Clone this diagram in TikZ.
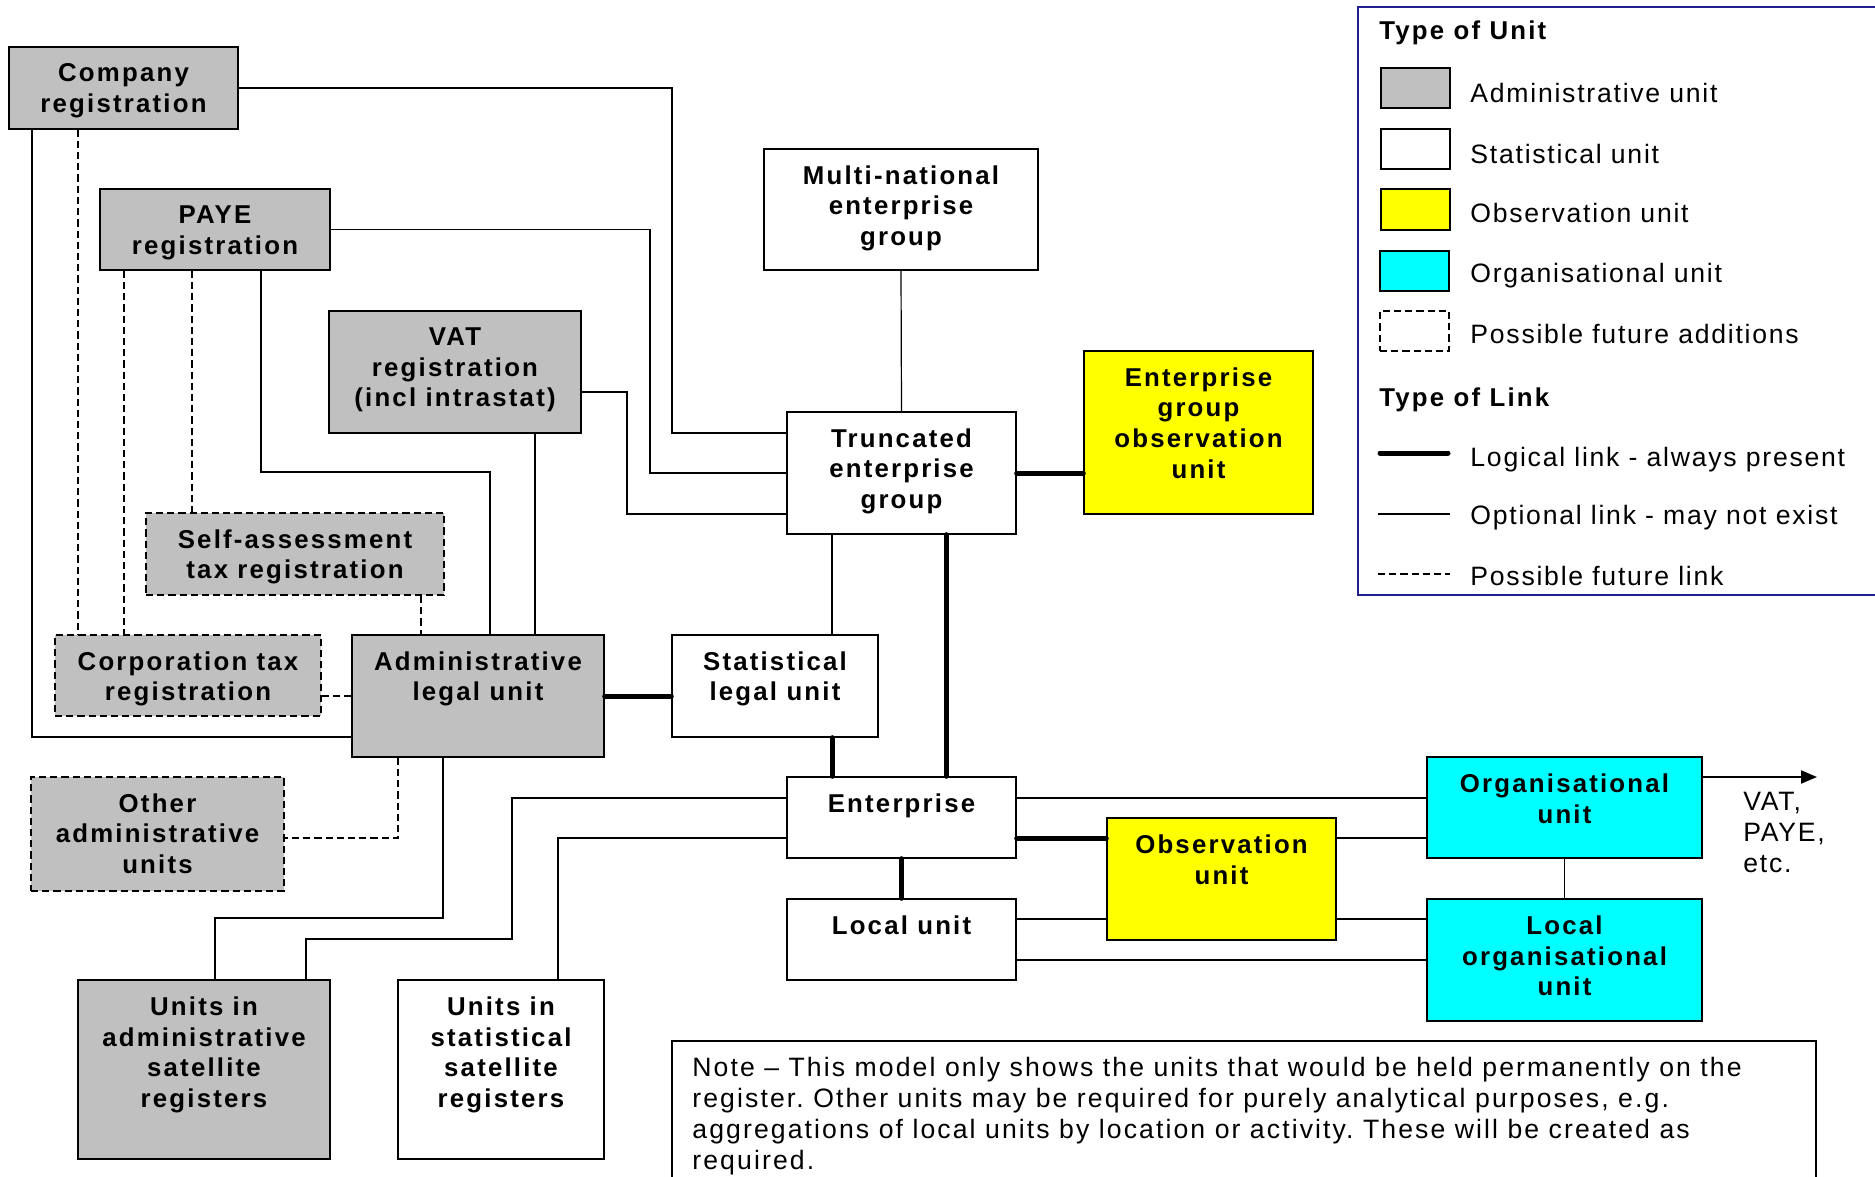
\documentclass[tikz,border=0pt]{standalone}
\usepackage{fontspec}
\setmainfont{Liberation Sans}
\newfontfamily\unitfamily[LetterSpace=8.5]{Liberation Sans}
\newfontfamily\plainfamily[LetterSpace=6.6]{Liberation Sans}
\newfontfamily\notefamily[LetterSpace=7.9]{Liberation Sans}
\usetikzlibrary{positioning,calc,fit}
\usetikzlibrary{arrows.meta}
\frenchspacing

\definecolor{admgray}{HTML}{C0C0C0}
\definecolor{obsyellow}{HTML}{FFFF00}
\definecolor{orgcyan}{HTML}{00FFFF}
\definecolor{legendblue}{HTML}{202090}

\tikzset{
	unitbox/.style={rectangle, draw, line width=0.7pt, inner sep=0pt},
	adminbox/.style={unitbox, fill=admgray},
	statbox/.style={unitbox, fill=white},
	obsbox/.style={unitbox, fill=obsyellow},
	orgbox/.style={unitbox, fill=orgcyan},
	futurebox/.style={adminbox, line width=0.95pt, dash pattern=on 3.6pt off 2pt},
	unittext/.style={anchor=north, yshift=-8.5pt, inner sep=0pt, align=center, font=\unitfamily\bfseries\fontsize{12.9}{15.3}\selectfont},
	optlink/.style={line width=0.6pt},
	logiclink/.style={line width=2.5pt, line cap=round},
	futurelink/.style={line width=0.95pt, dash pattern=on 3.6pt off 2pt},
	keytext/.style={anchor=base west, inner sep=0pt, font=\plainfamily\fontsize{13.3}{15.5}\selectfont},
	keyhead/.style={anchor=base west, inner sep=0pt, font=\unitfamily\bfseries\fontsize{12.9}{15.3}\selectfont},
}

\begin{document}
\begin{tikzpicture}[x=0.5pt, y=-0.5pt]
	\useasboundingbox (0,0) rectangle (1875,1177);

	\node[adminbox, fit={(9,47) (238,129)}, label={[unittext]north:Company\\registration}] (company) {};
	\node[adminbox, fit={(100,189) (330,270)}, label={[unittext]north:PAYE\\registration}] (paye) {};
	\node[adminbox, fit={(329,311) (581,433)}, label={[unittext]north:VAT\\registration\\(incl intrastat)}] (vat) {};
	\node[futurebox, fit={(146,513) (444,595)}, label={[unittext]north:Self-assessment\\tax registration}] (selfassess) {};
	\node[futurebox, fit={(55,635) (321,716)}, label={[unittext]north:Corporation tax\\registration}] (corptax) {};
	\node[adminbox, fit={(352,635) (604,757)}, label={[unittext]north:Administrative\\legal unit}] (adminlu) {};
	\node[futurebox, fit={(31,777) (284,891)}, label={[unittext]north:Other\\administrative\\units}] (otheradmin) {};
	\node[adminbox, fit={(78,980) (330,1159)}, label={[unittext]north:Units in\\administrative\\satellite\\registers}] (admsat) {};
	\node[statbox, fit={(398,980) (604,1159)}, label={[unittext]north:Units in\\statistical\\satellite\\registers}] (statsat) {};

	\node[statbox, fit={(764,149) (1038,270)}, label={[unittext]north:Multi-national\\enterprise\\group}] (mneg) {};
	\node[statbox, fit={(787,412) (1016,534)}, label={[unittext]north:Truncated\\enterprise\\group}] (teg) {};
	\node[obsbox, fit={(1084,351) (1313,514)}, label={[unittext]north:Enterprise\\group\\observation\\unit}] (egobs) {};
	\node[statbox, fit={(672,635) (878,737)}, label={[unittext]north:Statistical\\legal unit}] (statlu) {};
	\node[statbox, fit={(787,777) (1016,858)}, label={[unittext]north:Enterprise}] (enterprise) {};
	\node[statbox, fit={(787,899) (1016,980)}, label={[unittext]north:Local unit}] (localunit) {};
	\node[obsbox, fit={(1107,818) (1336,940)}, label={[unittext]north:Observation\\unit}] (obsunit) {};
	\node[orgbox, fit={(1427,757) (1702,858)}, label={[unittext]north:Organisational\\unit}] (orgunit) {};
	\node[orgbox, fit={(1427,899) (1702,1021)}, label={[unittext]north:Local\\organisational\\unit}] (localorg) {};

	\draw[optlink] (company.east) -| (672,433) -- (teg.west |- 0,433);
	\draw[optlink] (paye.east) -| (650,473) -- (teg.west);
	\draw[optlink] (vat.east |- 0,392) -| (627,514) -- (teg.west |- 0,514);
	\draw[optlink] (company.south -| 32,0) |- (adminlu.west |- 0,737);
	\draw[optlink] (paye.south -| 261,0) |- (490,472) -- (adminlu.north -| 490,0);
	\draw[optlink] (vat.south -| 535,0) -- (adminlu.north -| 535,0);
	\draw[optlink] (mneg.south) -- (teg.north);
	\draw[optlink] (teg.south -| 832,0) -- (statlu.north -| 832,0);
	\draw[optlink] (adminlu.south -| 443,0) |- (215,918) -- (admsat.north -| 215,0);
	\draw[optlink] (enterprise.west |- 0,798) -| (512,939) -| (admsat.north -| 306,0);
	\draw[optlink] (enterprise.west |- 0,838) -| (statsat.north -| 558,0);
	\draw[optlink] (enterprise.east |- 0,798) -- (orgunit.west |- 0,798);
	\draw[optlink] (obsunit.east |- 0,838) -- (orgunit.west |- 0,838);
	\draw[optlink] (localunit.east |- 0,919) -- (obsunit.west |- 0,919);
	\draw[optlink] (obsunit.east |- 0,919) -- (localorg.west |- 0,919);
	\draw[optlink] (localunit.east |- 0,960) -- (localorg.west |- 0,960);
	\draw[optlink] (orgunit.south) -- (localorg.north);

	\draw[logiclink] (adminlu.east) -- (statlu.west |- adminlu.east);
	\draw[logiclink] (teg.east) -- (egobs.west |- teg.east);
	\draw[logiclink] (teg.south -| 946,0) -- (enterprise.north -| 946,0);
	\draw[logiclink] (statlu.south -| 832,0) -- (enterprise.north -| 832,0);
	\draw[logiclink] (enterprise.east |- 0,838) -- (obsunit.west |- 0,838);
	\draw[logiclink] (enterprise.south) -- (localunit.north);

	\draw[futurelink] (company.south -| 78,0) -- (corptax.north -| 78,0);
	\draw[futurelink] (paye.south -| 124,0) -- (corptax.north -| 124,0);
	\draw[futurelink] (paye.south -| 192,0) -- (selfassess.north -| 192,0);
	\draw[futurelink] (selfassess.south -| 421,0) -- (adminlu.north -| 421,0);
	\draw[futurelink] (corptax.east |- 0,696) -- (adminlu.west |- 0,696);
	\draw[futurelink] (adminlu.south -| 398,0) |- (otheradmin.east |- 0,838);

	\coordinate (vatend) at (1817,777);
	\draw[line width=1pt, -{Triangle[length=8pt,width=6.5pt]}] (orgunit.east |- vatend) -- (vatend);
	\node[anchor=north west, inner sep=0pt, align=left, font=\plainfamily\fontsize{13.3}{15.5}\selectfont] (vatnote) at (1743,792) {VAT,\\PAYE,\\etc.};

	\node[statbox, fit={(672,1041) (1816,1200)}] (note) {};
	\node[anchor=north west, inner sep=0pt, align=left, font=\notefamily\fontsize{13.3}{15.5}\selectfont] (notetext) at (692,1057) {Note – This model only shows the units that would be held permanently on the\\register. Other units may be required for purely analytical purposes, e.g.\\aggregations of local units by location or activity. These will be created as\\required.};

	\node[unitbox, draw=legendblue, line width=1pt, fit={(1358,7) (1900,595)}] (legend) {};
	\node[keyhead] (unithead) at (1379,40) {Type of Unit};
	\node[adminbox, fit={(1381,68) (1450,108)}] (keyadm) {};
	\node[keytext] (keyadmtext) at (1470,103) {Administrative unit};
	\node[statbox, fit={(1381,129) (1450,169)}] (keystat) {};
	\node[keytext] (keystattext) at (1470,163) {Statistical unit};
	\node[obsbox, fit={(1381,189) (1450,230)}] (keyobs) {};
	\node[keytext] (keyobstext) at (1470,222) {Observation unit};
	\node[orgbox, fit={(1380,251) (1449,291)}] (keyorg) {};
	\node[keytext] (keyorgtext) at (1470,282) {Organisational unit};
	\node[unitbox, line width=0.95pt, dash pattern=on 3.6pt off 2pt, fit={(1380,311) (1449,351)}] (keyfut) {};
	\node[keytext] (keyfuttext) at (1470,343) {Possible future additions};
	\node[keyhead] (linkhead) at (1379,406) {Type of Link};
	\coordinate (logicA) at (1380,453);
	\coordinate (logicB) at (1448,453);
	\draw[logiclink] (logicA) -- (logicB);
	\node[keytext] (keylogic) at (1470,466) {Logical link - always present};
	\coordinate (optA) at (1378,514);
	\coordinate (optB) at (1450,514);
	\draw[optlink] (optA) -- (optB);
	\node[keytext] (keyopt) at (1470,524) {Optional link - may not exist};
	\coordinate (futA) at (1378,574);
	\coordinate (futB) at (1450,574);
	\draw[futurelink] (futA) -- (futB);
	\node[keytext] (keyfutlink) at (1470,585) {Possible future link};
\end{tikzpicture}
\end{document}
